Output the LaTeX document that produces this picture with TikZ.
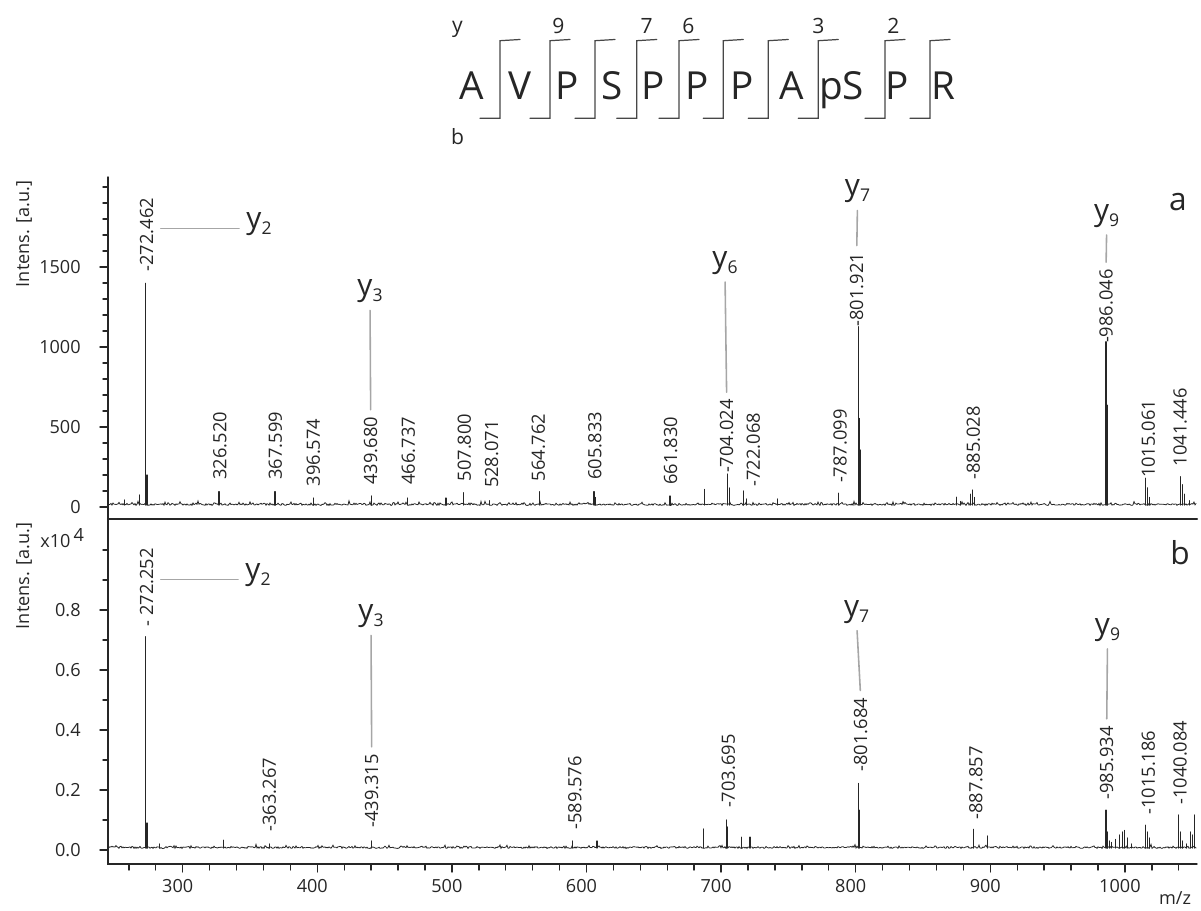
\documentclass[tikz,border=0pt]{standalone}
\usepackage{fontspec}
\setmainfont{Open Sans}
\usetikzlibrary{positioning}

\pgfmathdeclarefunction{mzx}{1}{\pgfmathparse{182.7+(#1-300)*1.346}}
\pgfmathdeclarefunction{ina}{1}{\pgfmathparse{507-0.16*#1}}
\pgfmathdeclarefunction{inb}{1}{\pgfmathparse{850-300*#1}}
\newcommand{\ysub}[1]{y\raisebox{-0.2em}{\fontsize{10}{12}\selectfont #1}}

\definecolor{ink}{HTML}{262626}
\definecolor{lead}{HTML}{A6A6A6}

\begin{document}
\begin{tikzpicture}[x=0.02cm,y=-0.02cm,line cap=round]
  \tikzstyle{res}=[anchor=base,inner sep=0,text=ink,font=\fontsize{22}{26}\selectfont]
  \tikzstyle{frag}=[inner sep=0,text=ink,font=\fontsize{12}{14}\selectfont]
  \tikzstyle{brk}=[draw=ink!85,line width=0.7pt]
  \tikzstyle{ax}=[draw=ink,line width=0.8pt]
  \tikzstyle{tk}=[inner sep=0,text=ink,font=\fontsize{10.3}{12}\selectfont]
  \tikzstyle{spec}=[draw=ink,line width=0.45pt]
  \tikzstyle{pk}=[draw=ink,line width=0.65pt]
  \tikzstyle{plbl}=[rotate=90,anchor=west,inner sep=0,text=ink,font=\fontsize{10.4}{12}\selectfont]
  \tikzstyle{ion}=[inner sep=0,text=ink,font=\fontsize{17}{20}\selectfont]
  \tikzstyle{leader}=[draw=lead,line width=0.9pt,shorten <=4pt,shorten >=4pt]
  \tikzstyle{panel}=[inner sep=0,text=ink,font=\fontsize{18}{20}\selectfont]
  \useasboundingbox (0,0) rectangle (1201,911);

  % peptide with fragment brackets
  \foreach \x/\aa [count=\i] in {471.7/A,520/V,566.7/P,611.7/S,653.3/P,696.7/P,
      741.7/P,791.7/A,841.7/pS,896.7/P,943.3/R} {
    \node[res] (r\i) at (\x,100) {\aa};
  }
  \foreach \x in {500,550,595,636.7,679,723.3,768.3,818.3,885,930} {
    \draw[brk] (\x-20,118.3) -- (\x,118.3) -- (\x,40.7) -- (\x+20,39.5);
  }
  \foreach \x/\n in {558.3/9,646.7/7,688.3/6,818.3/3,893.3/2} {
    \node[frag] (f\n) at (\x,26) {\n};
  }
  \node[frag] (ser-y) at (457.5,29) {y};
  \node[frag] (ser-b) at (457.5,136.7) {b};

  % axes
  \draw[ax] (108,177) -- (108,864) -- (1197,864);
  \draw[ax,line width=1.3pt] (108,519) -- (1197,519);
  \foreach \v in {0,100,...,2000} {
    \draw[ax] (108,{ina(\v)}) -- (103,{ina(\v)});
  }
  \foreach \v [count=\k] in {0,500,1000,1500} {
    \draw[ax] (108,{ina(\v)}) -- (100,{ina(\v)});
    \node[tk,anchor=east] (ta\k) at (81,{ina(\v)}) {\v};
  }
  \foreach \v in {0.1,0.3,0.5,0.7,0.9,1.0} {
    \draw[ax] (108,{inb(\v)}) -- (103,{inb(\v)});
  }
  \foreach \v/\t [count=\k] in {0/0.0,0.2/0.2,0.4/0.4,0.6/0.6,0.8/0.8} {
    \draw[ax] (108,{inb(\v)}) -- (100,{inb(\v)});
    \node[tk,anchor=east] (tb\k) at (81,{inb(\v)}) {\t};
  }
  \foreach \m in {260,280,...,1040} {
    \draw[ax] ({mzx(\m)},864) -- ({mzx(\m)},870);
  }
  \foreach \m in {300,400,...,1000} {
    \draw[ax] ({mzx(\m)},864) -- ({mzx(\m)},872);
    \node[tk] (x\m) at ({mzx(\m)-5},886) {\m};
  }
  \node[tk] (mz) at (1175,898) {m/z};
  \node[tk,rotate=90] (ylab-a) at (24,234) {Intens. [a.u.]};
  \node[tk,rotate=90] (ylab-b) at (24,576) {Intens. [a.u.]};
  \node[tk,anchor=west] (scale-b) at (40,538) {x10\,\raisebox{3pt}{4}};
  \node[panel] (pan-a) at (1178,202) {a};
  \node[panel] (pan-b) at (1180,553) {b};

  % spectrum a
  \pgfmathsetseed{17}
  \draw[spec] (108,505) \foreach \i in {109,...,1196} { -- (\i,{505.5-1.5*rnd-4*rnd*rnd*rnd}) };
  \foreach \m/\h in {257/44,268/75,272.46/1398,273.5/200,327/96,368.6/96,397/56,
      440/69,466.9/56,495.6/56,508.5/90,528/40,565/96,605.6/96,607/60,662/69,
      687.4/110,705/206,706.3/119,716.5/100,719/50,742/50,787/87,802.1/1127,
      802.8/554,803.5/356,875/62,878/35,885.5/80,886.5/106,888/60,986/1033,
      986.7/637,987.3/556,1015.5/180,1016.5/120,1018/60,1041.6/190,1042.5/140,
      1044/80,1048/40} {
    \draw[pk] ({mzx(\m)},505) -- ({mzx(\m)},{ina(\h)});
  }
  \foreach \x/\y/\t/\n in {146.7/271.7/-272.462/272,220/480/326.520/326,
      275.3/480/367.599/367,313.3/486.7/396.574/396,370.7/485/439.680/439,
      408.3/485/466.737/466,464.3/481.7/507.800/507,491.7/488.3/528.071/528,
      538.3/481.7/564.762/564,595/480/605.833/605,670.7/485/661.830/661,
      726.7/473.3/-704.024/704,753.3/486.7/-722.068/722,840/483.3/-787.099/787,
      856.7/326.7/-801.921/801,973.3/480/-885.028/885,1106/343.3/-986.046/986,
      1148.3/478.3/1015.061/1015,1180/466.7/1041.446/1041} {
    \node[plbl] (pa\n) at (\x,\y) {\t};
  }
  \node[ion] (iy2a) at (259,224) {\ysub{2}};
  \node[ion] (iy3a) at (370,291.5) {\ysub{3}};
  \node[ion] (iy6a) at (725,263) {\ysub{6}};
  \node[ion] (iy7a) at (857.5,191.5) {\ysub{7}};
  \node[ion] (iy9a) at (1106.7,216) {\ysub{9}};
  \draw[leader] (iy2a.base west) -- (iy2a.base west -| pa272.south);
  \draw[leader] (iy3a.south) -- (pa439.east);
  \draw[leader] (iy6a.south) -- (pa704.east);
  \draw[leader] (iy7a.south) -- (pa801.east);
  \draw[leader] (iy9a.south) -- (pa986.east);

  % spectrum b
  \draw[spec] (108,848) \foreach \i in {109,...,1196} { -- (\i,{848.5-1.5*rnd-3.5*rnd*rnd*rnd}) };
  \foreach \m/\h in {272.25/0.711,273.5/0.09,283/0.02,330/0.033,364.3/0.02,
      440/0.03,589.7/0.03,607.8/0.03,686.8/0.07,704.2/0.10,705/0.077,715.3/0.043,
      721.5/0.043,802/0.222,802.8/0.133,887.4/0.069,897.8/0.047,986/0.133,
      987/0.06,988.5/0.03,990/0.025,993/0.035,996/0.05,998/0.06,999.5/0.065,
      1002/0.04,1005/0.02,1015.5/0.083,1016.5/0.06,1018/0.04,1040/0.117,
      1041/0.06,1043/0.03,1046/0.02,1049/0.06,1050.5/0.05,1052/0.117} {
    \draw[pk] ({mzx(\m)},848) -- ({mzx(\m)},{inb(\h)});
  }
  \foreach \x/\y/\t/\n in {146.7/626.7/- 272.252/272,269.3/831.7/-363.267/363,
      371.7/828/-439.315/439,575/830/-589.576/589,728.3/808.3/-703.695/703,
      860.7/771.7/-801.684/801,976/820/-887.857/887,1106.7/800/-985.934/985,
      1148.3/815/-1015.186/1015,1180/805/-1040.084/1040} {
    \node[plbl] (pb\n) at (\x,\y) {\t};
  }
  \node[ion] (iy2b) at (258,575) {\ysub{2}};
  \node[ion] (iy3b) at (371,616.5) {\ysub{3}};
  \node[ion] (iy7b) at (856.7,611.7) {\ysub{7}};
  \node[ion] (iy9b) at (1107.5,630) {\ysub{9}};
  \draw[leader] (iy2b.base west) -- (iy2b.base west -| pb272.south);
  \draw[leader] (iy3b.south) -- (pb439.east);
  \draw[leader] (iy7b.south) -- (pb801.east);
  \draw[leader] (iy9b.south) -- (pb985.east);
\end{tikzpicture}
\end{document}
